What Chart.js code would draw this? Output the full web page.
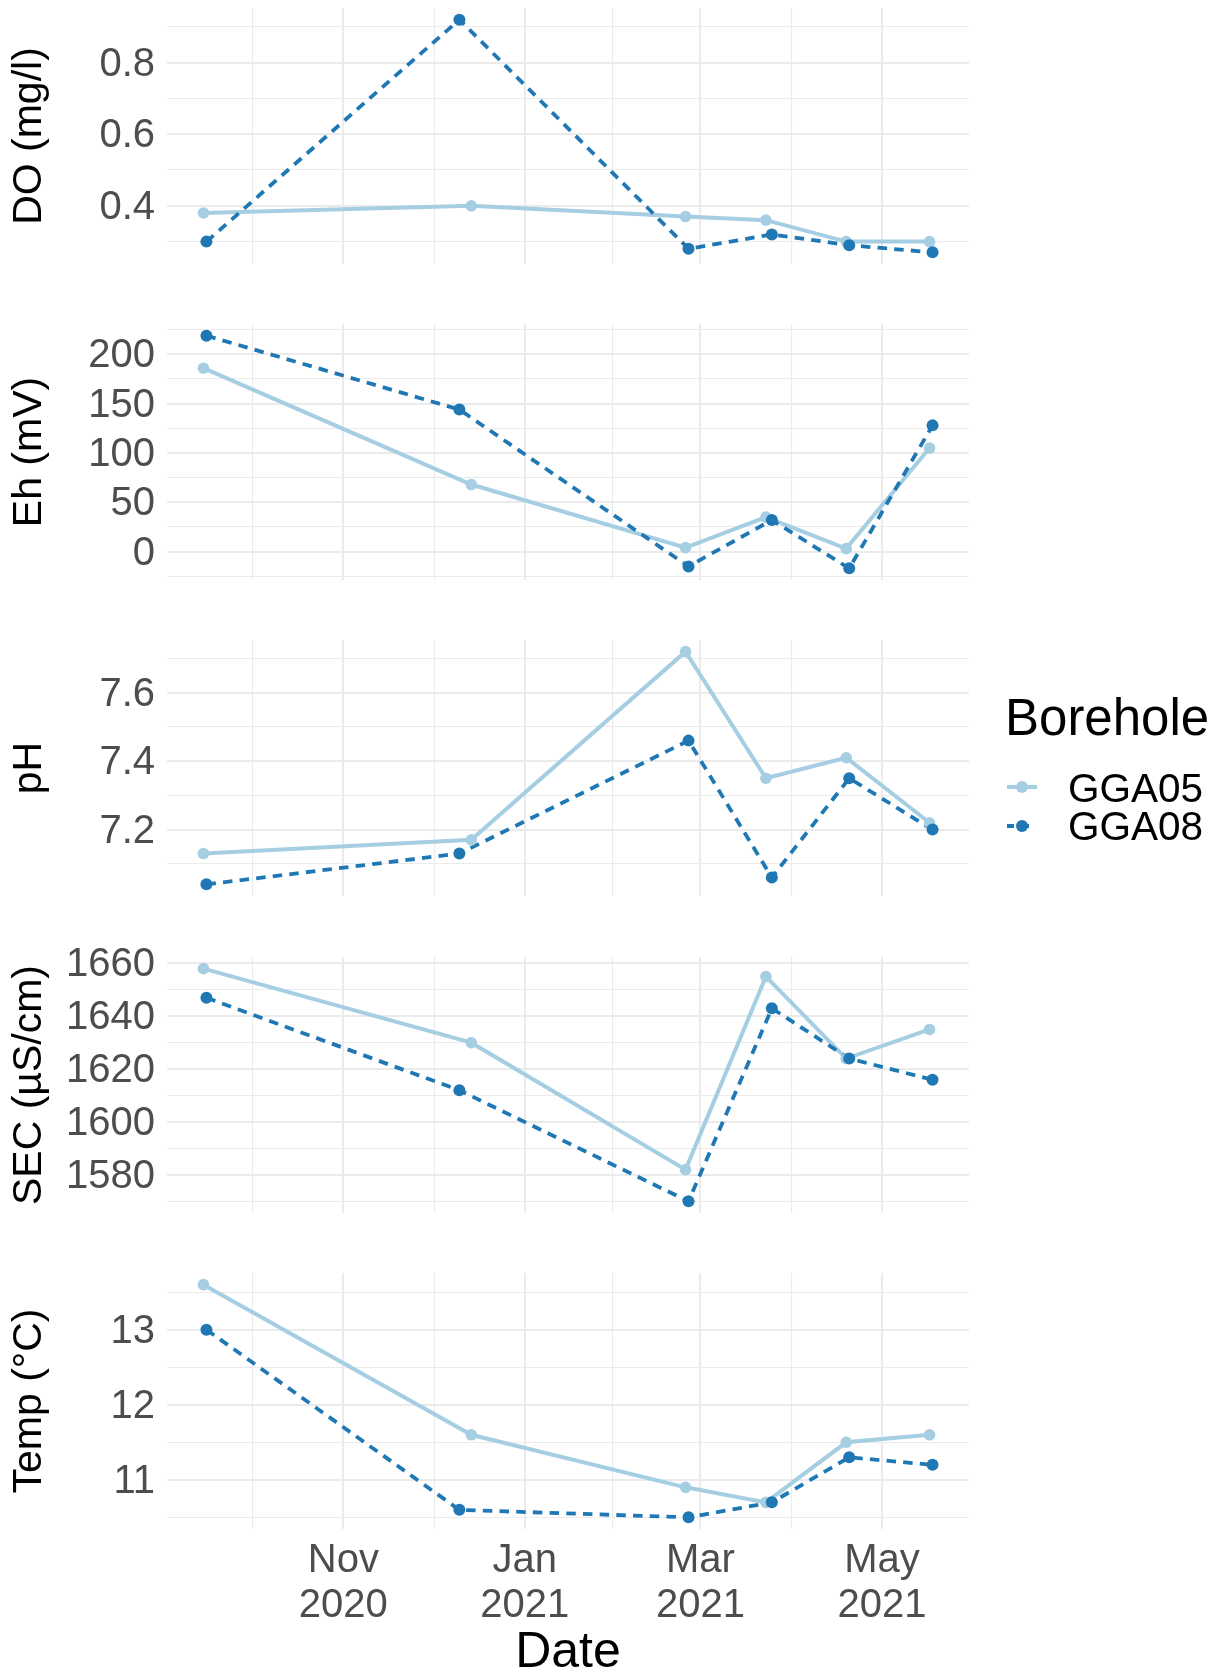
<!DOCTYPE html>
<html>
<head>
<meta charset="utf-8">
<script src="https://cdn.jsdelivr.net/npm/chart.js@4.4.1/dist/chart.umd.min.js"></script>
<style>
body{margin:0;background:#fff;width:1224px;height:1675px;position:relative;overflow:hidden}
canvas{position:absolute;left:0}
</style>
</head>
<body>
<canvas id="doChart" width="1224" height="346" style="top:-37px"></canvas>
<canvas id="ehChart" width="1224" height="346" style="top:279px"></canvas>
<canvas id="phChart" width="1224" height="346" style="top:595px"></canvas>
<canvas id="secChart" width="1224" height="346" style="top:912px"></canvas>
<canvas id="tempChart" width="1224" height="447" style="top:1228px"></canvas>
<script>
// sampling dates per borehole
const dates05=['2020-09-15','2020-12-14','2021-02-24','2021-03-23','2021-04-19','2021-05-17']
const dates08=['2020-09-16','2020-12-10','2021-02-25','2021-03-25','2021-04-20','2021-05-18']

const doGGA05=[0.38,0.40,0.37,0.36,0.30,0.30]
const doGGA08=[0.30,0.92,0.28,0.32,0.29,0.27]
const ehGGA05=[186,68,4,35,3,105]
const ehGGA08=[219,144,-15,32,-17,128]
const phGGA05=[7.13,7.17,7.72,7.35,7.41,7.22]
const phGGA08=[7.04,7.13,7.46,7.06,7.35,7.20]
const secGGA05=[1658,1630,1582,1655,1624,1635]
const secGGA08=[1647,1612,1570,1643,1624,1616]
const tempGGA05=[13.6,11.6,10.9,10.7,11.5,11.6]
const tempGGA08=[13.0,10.6,10.5,10.7,11.3,11.2]

// tick labels
const xMajor=['2020-11-01','2021-01-01','2021-03-01','2021-05-01']
const xMajorLabels=[['Nov','2020'],['Jan','2021'],['Mar','2021'],['May','2021']]
const xMinor=['2020-10-01T12:00:00Z','2020-12-01T12:00:00Z','2021-01-30T12:00:00Z','2021-03-31T12:00:00Z']

const doTicks=['0.4','0.6','0.8']
const doMinor=[0.3,0.5,0.7,0.9]
const ehTicks=['0','50','100','150','200']
const ehMinor=[-25,25,75,125,175,225]
const phTicks=['7.2','7.4','7.6']
const phMinor=[7.1,7.3,7.5,7.7]
const secTicks=['1580','1600','1620','1640','1660']
const secMinor=[1570,1590,1610,1630,1650]
const tempTicks=['11','12','13']
const tempMinor=[10.5,11.5,12.5,13.5]

const legendNames=['GGA05','GGA08']
const c05='#A6CEE3'
const c08='#1F78B4'
const font='"Liberation Sans", Arial, sans-serif'
const grid='#EBEBEB'
const dash=[9.5,7.2]

const day=s=>Date.parse(s)/864e5

const allDays=dates05.concat(dates08).map(day)
const dMin=Math.min(...allDays), dMax=Math.max(...allDays)
const xmin=dMin-0.05*(dMax-dMin)
const xmax=dMax+0.05*(dMax-dMin)

const near=(a,b)=>Math.abs(a-b)<1e-6

function pts(dates,vals){
return dates.map((d,i)=>({x:day(d),y:vals[i]}))
}

const legendPlugin={
id:'boreholeLegend',
afterDraw(chart){
const ctx=chart.ctx
const off=595
ctx.save()
ctx.fillStyle='#000'
ctx.textBaseline='alphabetic'
ctx.font='51px '+font
ctx.fillText('Borehole',1005,735-off)
const keyY=[787,826]
const textY=[802,839.5]
const cols=[c05,c08]
legendNames.forEach((n,i)=>{
ctx.strokeStyle=cols[i]
ctx.lineWidth=4
ctx.setLineDash(i==1?[7,8]:[])
ctx.beginPath()
ctx.moveTo(1007,keyY[i]-off)
ctx.lineTo(1037,keyY[i]-off)
ctx.stroke()
ctx.setLineDash([])
ctx.fillStyle=cols[i]
ctx.beginPath()
ctx.arc(1022,keyY[i]-off,6,0,Math.PI*2)
ctx.fill()
ctx.fillStyle='#000'
ctx.font='40.5px '+font
ctx.fillText(n,1068,textY[i]-off)
})
ctx.restore()
}
}

function panel(id,title,a,b,ticks,minor,bottom,withLegend){

let vals=a.concat(b)
let lo=Math.min(...vals), hi=Math.max(...vals)
let ymin=lo-0.05*(hi-lo), ymax=hi+0.05*(hi-lo)
let majorVals=ticks.map(Number)
let s05=pts(dates05,a)
let s08=pts(dates08,b)

return new Chart(document.getElementById(id),{
type:'scatter',
data:{
datasets:[
{data:s05,showLine:true,borderColor:c05,borderWidth:4,pointRadius:0,order:4},
{data:s08,showLine:true,borderColor:c08,borderWidth:3.8,borderDash:dash,pointRadius:0,order:3},
{data:s05,showLine:false,pointRadius:5.8,pointBackgroundColor:c05,pointBorderWidth:0,order:2},
{data:s08,showLine:false,pointRadius:6,pointBackgroundColor:c08,pointBorderWidth:0,order:1}
]
},
options:{
responsive:false,
animation:false,
events:[],
layout:{padding:{top:45,bottom:bottom?0:45,left:0,right:255}},
plugins:{legend:{display:false},tooltip:{enabled:false}},
scales:{
x:{
type:'linear',
min:xmin,
max:xmax,
afterBuildTicks:s=>{
s.ticks=xMinor.concat(xMajor).map(day).sort((p,q)=>p-q).map(v=>({value:v}))
},
afterFit:s=>{s.height=bottom?146:0},
ticks:{
display:bottom,
autoSkip:false,
maxRotation:0,
minRotation:0,
padding:9,
color:'#4D4D4D',
font:{family:font,size:40,lineHeight:1.13},
callback:v=>{
let i=xMajor.findIndex(d=>near(day(d),v))
return i<0?'':xMajorLabels[i]
}
},
grid:{
color:grid,
drawTicks:false,
lineWidth:c=>xMajor.some(d=>near(day(d),c.tick.value))?2:1.1
},
border:{display:false},
title:{display:bottom,text:'Date',color:'#000',font:{family:font,size:50,lineHeight:0.86},padding:{top:0,bottom:0}}
},
y:{
min:ymin,
max:ymax,
afterBuildTicks:s=>{
s.ticks=minor.filter(v=>v>=ymin&&v<=ymax).concat(majorVals).sort((p,q)=>p-q).map(v=>({value:v}))
},
afterFit:s=>{s.width=167},
ticks:{
autoSkip:false,
padding:12,
labelOffset:2,
color:'#4D4D4D',
font:{family:font,size:40},
callback:v=>{
let i=majorVals.findIndex(m=>near(m,v))
return i<0?'':ticks[i]
}
},
grid:{
color:grid,
drawTicks:false,
lineWidth:c=>majorVals.some(m=>near(m,c.tick.value))?2:1.1
},
border:{display:false},
title:{display:true,text:title,color:'#000',font:{family:font,size:41},padding:{top:5,bottom:0}}
}
}
},
plugins:withLegend?[legendPlugin]:[]
})
}

panel('doChart','DO (mg/l)',doGGA05,doGGA08,doTicks,doMinor,false,false)
panel('ehChart','Eh (mV)',ehGGA05,ehGGA08,ehTicks,ehMinor,false,false)
panel('phChart','pH',phGGA05,phGGA08,phTicks,phMinor,false,true)
panel('secChart','SEC (µS/cm)',secGGA05,secGGA08,secTicks,secMinor,false,false)
panel('tempChart','Temp (°C)',tempGGA05,tempGGA08,tempTicks,tempMinor,true,false)
</script>
</body>
</html>
